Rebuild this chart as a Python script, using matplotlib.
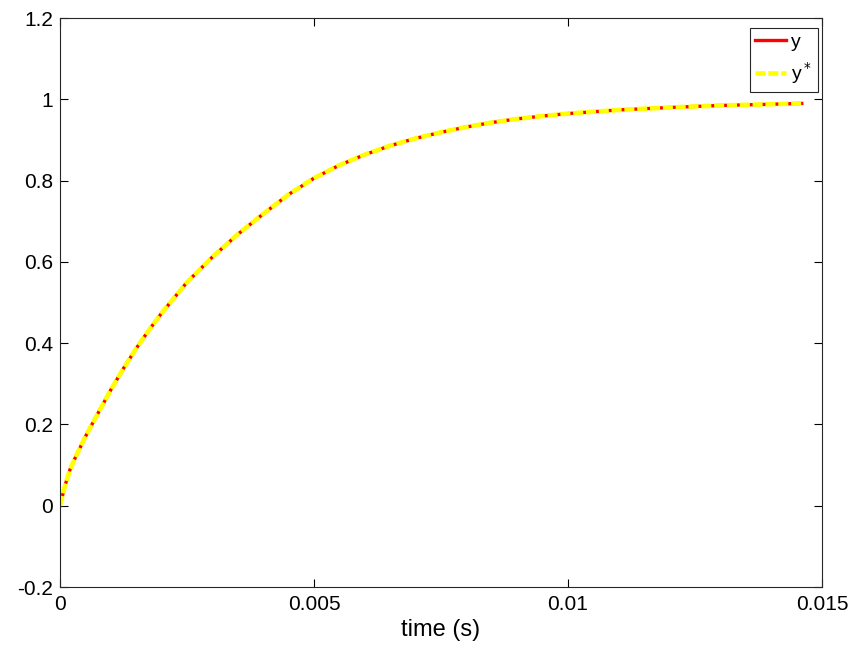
import numpy as np
import matplotlib
matplotlib.use("Agg")
import matplotlib.pyplot as plt

plt.rcParams['font.family'] = ['Liberation Sans', 'DejaVu Sans']

# values
t = [0, 0.0001, 0.0002, 0.0003, 0.0005, 0.00075, 0.001, 0.00125, 0.0015, 0.00175,
     0.002, 0.0025, 0.003, 0.0035, 0.004, 0.0045, 0.005, 0.0055, 0.006, 0.0065,
     0.007, 0.0075, 0.008, 0.0085, 0.009, 0.0095, 0.01, 0.011, 0.012, 0.013,
     0.014, 0.0146]
y = [0, 0.05, 0.09, 0.118, 0.17, 0.228, 0.285, 0.338, 0.387, 0.432,
     0.474, 0.55, 0.612, 0.668, 0.718, 0.766, 0.806, 0.838, 0.864, 0.886,
     0.904, 0.919, 0.932, 0.943, 0.952, 0.959, 0.965, 0.974, 0.98, 0.985,
     0.988, 0.99]
y_star = y

xticks = [0, 0.005, 0.01, 0.015]
xticklabels = ['0', '0.005', '0.01', '0.015']
yticks = [-0.2, 0, 0.2, 0.4, 0.6, 0.8, 1, 1.2]
yticklabels = ['-0.2', '0', '0.2', '0.4', '0.6', '0.8', '1', '1.2']

fig = plt.figure(figsize=(8.63, 6.46), dpi=100)
ax = fig.add_axes([0.0695, 0.0913, 0.883, 0.8807])

ax.plot(t, y, color='#ff0000', linewidth=2.4, label='y')
ax.plot(t, y_star, color='#ffff00', linewidth=3.3, linestyle=(0, (2.2, 0.6)), label='y$^*$')

ax.set_xlim(0, 0.015)
ax.set_ylim(-0.2, 1.2)
ax.set_xticks(xticks)
ax.set_xticklabels(xticklabels)
ax.set_yticks(yticks)
ax.set_yticklabels(yticklabels)
ax.tick_params(direction='in', top=True, right=True, labelsize=15, length=6, width=0.8)
ax.tick_params(axis='x', pad=6)
ax.tick_params(axis='y', pad=5)
for s in ax.spines.values():
    s.set_color('#262626')
    s.set_linewidth(0.8)
ax.set_xlabel('time (s)', fontsize=17, labelpad=3)

leg = ax.legend(loc='upper right', fontsize=14, fancybox=False, framealpha=1,
                edgecolor='#262626', handlelength=1.6, borderaxespad=0.2,
                borderpad=0.3, labelspacing=0.45, handletextpad=0.25,
                bbox_to_anchor=(1.0, 0.99))
leg.get_frame().set_linewidth(0.8)

fig.savefig('out.png', dpi=100)
